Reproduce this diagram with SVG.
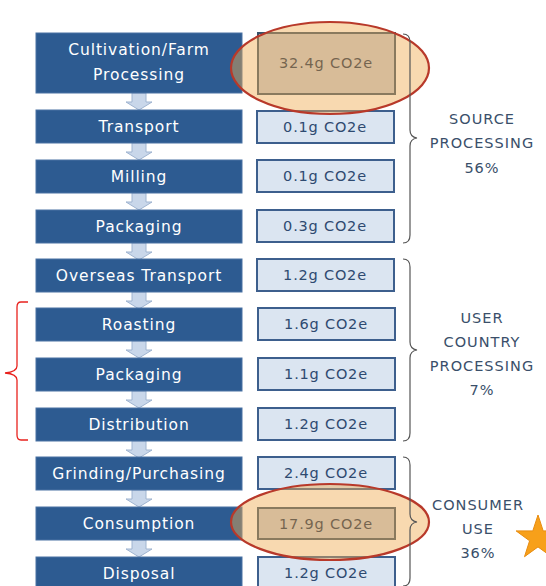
<svg xmlns="http://www.w3.org/2000/svg" width="546" height="586" viewBox="0 0 546 586">
<defs>
<style>
.step rect{fill:#2d5b91;stroke:#4a72a3;stroke-width:1}
.step text{fill:#ffffff;font-family:"DejaVu Sans",sans-serif;font-size:15.5px;text-anchor:middle;letter-spacing:0.9px}
.val rect{fill:#dbe5f1;stroke:#3d5f8d;stroke-width:2}
.val text{fill:#2e4a70;font-family:"DejaVu Sans",sans-serif;font-size:14.5px;text-anchor:middle;letter-spacing:0.8px}
.val.hot rect{fill:#c5cad4;stroke:#37526a}
.val.hot text{fill:#0e2c50}
.lbl{fill:#3a4f6a;font-family:"DejaVu Sans",sans-serif;font-size:14.5px;text-anchor:middle;letter-spacing:1px}
.arr{fill:#c9d7ea;stroke:#9fb4d0;stroke-width:1}
.brace{fill:none;stroke:#555;stroke-width:1.2}
.hl{fill:#efab4f;fill-opacity:0.45;stroke:#b8392a;stroke-width:2.2}
</style>
<path id="ar" d="M-7,0 h14 v9 h6 l-13,8 l-13,-8 h6 z"/>
</defs>
<g id="connectors">
<use href="#ar" class="arr" x="139" y="93"/>
<use href="#ar" class="arr" x="139" y="143"/>
<use href="#ar" class="arr" x="139" y="193"/>
<use href="#ar" class="arr" x="139" y="243"/>
<use href="#ar" class="arr" x="139" y="292"/>
<use href="#ar" class="arr" x="139" y="341"/>
<use href="#ar" class="arr" x="139" y="391"/>
<use href="#ar" class="arr" x="139" y="441"/>
<use href="#ar" class="arr" x="139" y="490"/>
<use href="#ar" class="arr" x="139" y="540"/>
</g>
<g id="n1" class="step"><rect x="36" y="33" width="206" height="60"/><text x="139" y="55">Cultivation/Farm</text><text x="139" y="80">Processing</text></g>
<g id="n2" class="step"><rect x="36" y="110" width="206" height="33"/><text x="139" y="132">Transport</text></g>
<g id="n3" class="step"><rect x="36" y="160" width="206" height="33"/><text x="139" y="182">Milling</text></g>
<g id="n4" class="step"><rect x="36" y="210" width="206" height="33"/><text x="139" y="232">Packaging</text></g>
<g id="n5" class="step"><rect x="36" y="259" width="206" height="33"/><text x="139" y="281">Overseas Transport</text></g>
<g id="n6" class="step"><rect x="36" y="308" width="206" height="33"/><text x="139" y="330">Roasting</text></g>
<g id="n7" class="step"><rect x="36" y="358" width="206" height="33"/><text x="139" y="380">Packaging</text></g>
<g id="n8" class="step"><rect x="36" y="408" width="206" height="33"/><text x="139" y="430">Distribution</text></g>
<g id="n9" class="step"><rect x="36" y="457" width="206" height="33"/><text x="139" y="479">Grinding/Purchasing</text></g>
<g id="n10" class="step"><rect x="36" y="507" width="206" height="33"/><text x="139" y="529">Consumption</text></g>
<g id="n11" class="step"><rect x="36" y="557" width="206" height="33"/><text x="139" y="579">Disposal</text></g>
<g id="v1" class="val hot"><rect x="258" y="33" width="137" height="61"/><text x="326" y="68">32.4g CO2e</text></g>
<g id="v2" class="val"><rect x="257" y="111" width="137" height="32"/><text x="325" y="132">0.1g CO2e</text></g>
<g id="v3" class="val"><rect x="257" y="160" width="137" height="32"/><text x="325" y="181">0.1g CO2e</text></g>
<g id="v4" class="val"><rect x="257" y="210" width="137" height="32"/><text x="325" y="231">0.3g CO2e</text></g>
<g id="v5" class="val"><rect x="257" y="259" width="137" height="32"/><text x="325" y="280">1.2g CO2e</text></g>
<g id="v6" class="val"><rect x="258" y="308" width="137" height="32"/><text x="326" y="329">1.6g CO2e</text></g>
<g id="v7" class="val"><rect x="258" y="358" width="137" height="32"/><text x="326" y="379">1.1g CO2e</text></g>
<g id="v8" class="val"><rect x="258" y="408" width="137" height="32"/><text x="326" y="429">1.2g CO2e</text></g>
<g id="v9" class="val"><rect x="258" y="457" width="137" height="32"/><text x="326" y="478">2.4g CO2e</text></g>
<g id="v10" class="val hot"><rect x="258" y="508" width="137" height="31"/><text x="326" y="529">17.9g CO2e</text></g>
<g id="v11" class="val"><rect x="258" y="557" width="137" height="32"/><text x="326" y="578">1.2g CO2e</text></g>
<g id="highlights">
<ellipse class="hl" cx="330" cy="68" rx="99" ry="46"/>
<ellipse class="hl" cx="330" cy="522" rx="99" ry="38"/>
</g>
<g id="braces">
<path class="brace" d="M403,34 q7,0 7,8 v88 q0,7 7,8 q-7,1 -7,8 v89 q0,8 -7,8"/>
<path class="brace" d="M403,259 q7,0 7,8 v75 q0,7 7,8 q-7,1 -7,8 v75 q0,8 -7,8"/>
<path class="brace" d="M403,457 q7,0 7,8 v49 q0,7 7,8 q-7,1 -7,8 v48 q0,8 -7,8"/>
<path d="M28,302 h-7 q-4,0 -4,5 v59 q0,6 -12,7 q12,1 12,7 v55 q0,5 4,5 h7" fill="none" stroke="#e8221e" stroke-width="1.3"/>
</g>
<g id="labels">
<text class="lbl" x="482" y="124">SOURCE</text>
<text class="lbl" x="482" y="148">PROCESSING</text>
<text class="lbl" x="482" y="173">56%</text>
<text class="lbl" x="482" y="323">USER</text>
<text class="lbl" x="482" y="347">COUNTRY</text>
<text class="lbl" x="482" y="371">PROCESSING</text>
<text class="lbl" x="482" y="395">7%</text>
<text class="lbl" x="478" y="510">CONSUMER</text>
<text class="lbl" x="478" y="534">USE</text>
<text class="lbl" x="478" y="558">36%</text>
</g>
<g id="star"><polygon points="538,515 543.2,530.9 559.9,530.9 546.4,540.8 551.5,556.7 538,546.9 524.5,556.7 529.6,540.8 516.1,530.9 532.8,530.9" fill="#f7a01a" stroke="#e88c10" stroke-width="1"/></g>
</svg>
